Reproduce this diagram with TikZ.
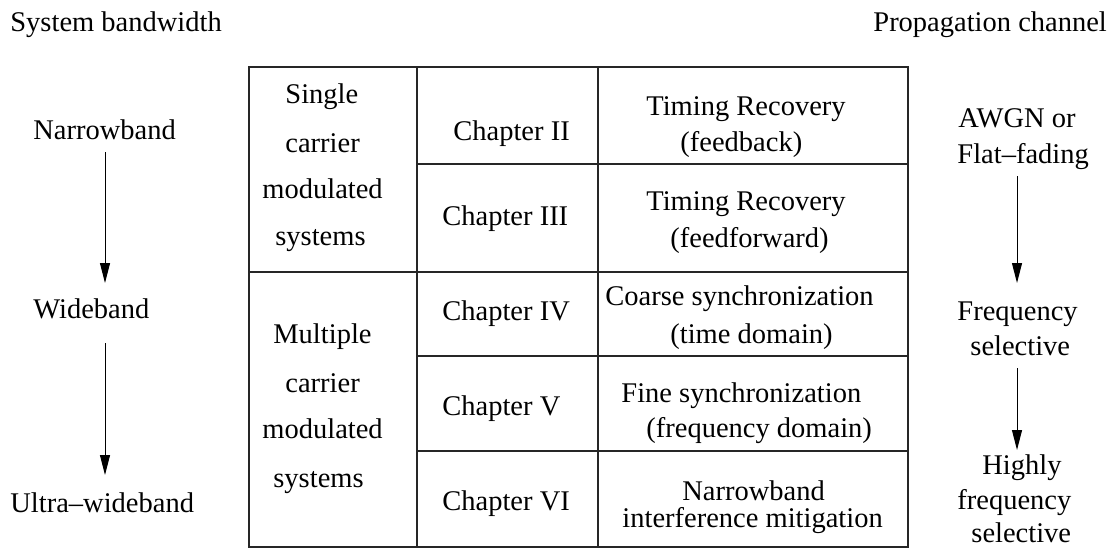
\documentclass[tikz,border=0pt]{standalone}
\usepackage{fontspec}
\setmainfont{Liberation Serif}
\usetikzlibrary{arrows.meta}
\tikzset{
  txt/.style={anchor=base west, inner sep=0pt, font=\fontsize{14.25}{17}\selectfont},
  grid/.style={line width=0.6pt, draw=black!85},
  flow/.style={line width=0.5pt, -{Triangle[length=10pt,width=5pt]}}
}
\begin{document}
\begin{tikzpicture}[x=0.5pt, y=-0.5pt]
\useasboundingbox (0,0) rectangle (1113,548);
% table
\draw[grid] (249,67) rectangle (908,547);
\draw[grid] (417,67) -- (417,547);
\draw[grid] (598,67) -- (598,547);
\draw[grid] (249,272) -- (908,272);
\draw[grid] (417,164) -- (908,164);
\draw[grid] (417,356) -- (908,356);
\draw[grid] (417,451) -- (908,451);
% headings
\node[txt] (hl) at (10,31) {System bandwidth};
\node[txt] (hr) at (873,31) {Propagation channel};
% left axis
\node[txt] (nb) at (33,139) {Narrowband};
\node[txt] (wb) at (33,318) {Wideband};
\node[txt] (uwb) at (10,512) {Ultra–wideband};
% first column
\node[txt] (s1) at (285,103) {Single};
\node[txt] (s2) at (285,152) {carrier};
\node[txt] (s3) at (262,198) {modulated};
\node[txt] (s4) at (275,245) {systems};
\node[txt] (m1) at (273,343) {Multiple};
\node[txt] (m2) at (285,392) {carrier};
\node[txt] (m3) at (262,438) {modulated};
\node[txt] (m4) at (273,487) {systems};
% chapters
\node[txt] (c2) at (453,140) {Chapter II};
\node[txt] (c3) at (442,225) {Chapter III};
\node[txt] (c4) at (442,320) {Chapter IV};
\node[txt] (c5) at (442,415) {Chapter V};
\node[txt] (c6) at (442,510) {Chapter VI};
% topics
\node[txt] (t2a) at (646,115) {Timing Recovery};
\node[txt] (t2b) at (680,151) {(feedback)};
\node[txt] (t3a) at (646,210) {Timing Recovery};
\node[txt] (t3b) at (670,247) {(feedforward)};
\node[txt] (t4a) at (605,305) {Coarse synchronization};
\node[txt] (t4b) at (670,343) {(time domain)};
\node[txt] (t5a) at (621,402) {Fine synchronization};
\node[txt] (t5b) at (646,437) {(frequency domain)};
\node[txt] (t6a) at (682,500) {Narrowband};
\node[txt] (t6b) at (622,527) {interference mitigation};
% right axis
\node[txt] (r1a) at (958,127) {AWGN or};
\node[txt] (r1b) at (957,163) {Flat–fading};
\node[txt] (r2a) at (957,320) {Frequency};
\node[txt] (r2b) at (970,355) {selective};
\node[txt] (r3a) at (982,474) {Highly};
\node[txt] (r3b) at (957,509) {frequency};
\node[txt] (r3c) at (971,542) {selective};
% arrow end points
\coordinate (la1) at (105,152);
\coordinate (la2) at (105,283);
\coordinate (la3) at (105,343);
\coordinate (la4) at (105,475);
\coordinate (ra1) at (1017,176);
\coordinate (ra2) at (1017,283);
\coordinate (ra3) at (1017,368);
\coordinate (ra4) at (1017,450);
\draw[flow] (la1) -- (la2);
\draw[flow] (la3) -- (la4);
\draw[flow] (ra1) -- (ra2);
\draw[flow] (ra3) -- (ra4);
\end{tikzpicture}
\end{document}
